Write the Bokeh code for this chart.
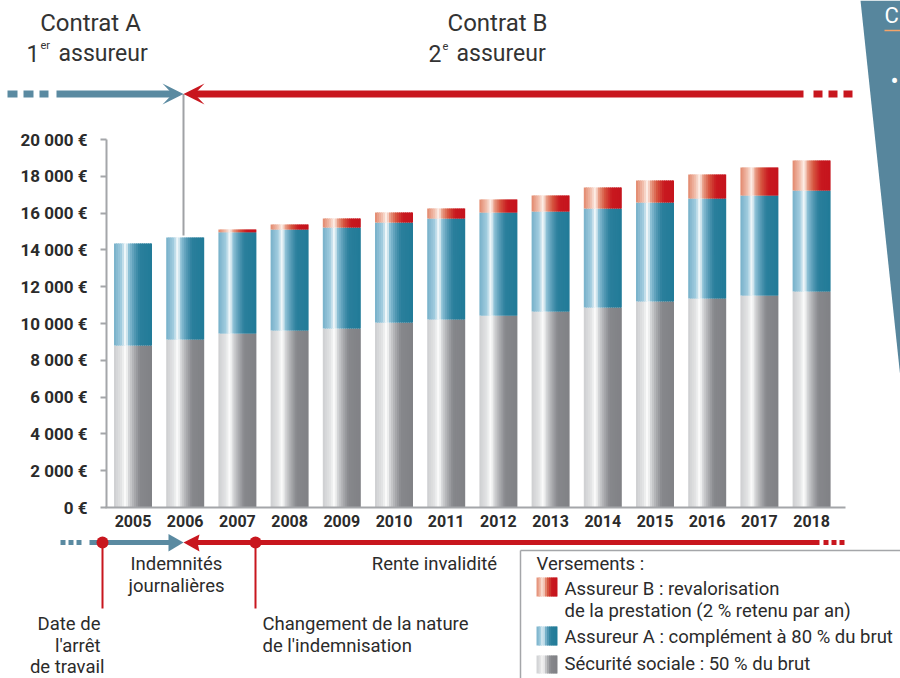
import numpy as np
from bokeh.plotting import figure
from bokeh.models import Range1d, FixedTicker
from bokeh.embed import file_html
from bokeh.resources import INLINE
from bokeh.core.properties import value

# ---------------- data ----------------
years = [2005, 2006, 2007, 2008, 2009, 2010, 2011, 2012, 2013, 2014, 2015, 2016, 2017, 2018]
securite_sociale = [8800, 9130, 9460, 9620, 9730, 10050, 10220, 10430, 10650, 10870, 11200, 11360, 11520, 11740]
assureur_a = [5550, 5540, 5500, 5490, 5490, 5440, 5490, 5600, 5440, 5380, 5380, 5430, 5440, 5490]
assureur_b = [0, 0, 150, 270, 490, 540, 540, 710, 870, 1140, 1190, 1310, 1520, 1630]
y_ticks = [0, 2000, 4000, 6000, 8000, 10000, 12000, 14000, 16000, 18000, 20000]
y_tick_labels = ["0 €", "2 000 €", "4 000 €", "6 000 €", "8 000 €", "10 000 €",
                 "12 000 €", "14 000 €", "16 000 €", "18 000 €", "20 000 €"]
legend_title = "Versements :"
legend_labels = ["Assureur B : revalorisation", "de la prestation (2 % retenu par an)",
                 "Assureur A : complément à 80 % du brut", "Sécurité sociale : 50 % du brut"]

# ---------------- layout helpers (page pixels -> data) ----------------
W, H = 900, 678
X2005, PX_YEAR = 132.5, 52.2
Y0, Y20K = 507.0, 139.0
PX_EUR = (Y0 - Y20K) / 20000.0


def dx(sx):
    return 2005 + (sx - X2005) / PX_YEAR


def dy(sy):
    return (Y0 - sy) / PX_EUR


BAR_W = 38 / PX_YEAR
FONT = value("Roboto")
TXT = "#2b2b2b"
HEAD = "#333333"
RED = "#c8161e"
BLUE_A = "#5a8aa1"
FS = value("18.5px")

GRAY_STOPS = [(0, "#cdced0"), (0.2, "#e4e5e6"), (0.31, "#ffffff"), (0.38, "#d8d9db"),
              (0.52, "#aeafb2"), (0.68, "#87888c"), (1, "#808185")]
BLUE_STOPS = [(0, "#76b0c9"), (0.2, "#a3cde0"), (0.31, "#ffffff"), (0.38, "#92c4d8"),
              (0.52, "#5a9db8"), (0.68, "#2a7f9c"), (1, "#217b98")]
RED_STOPS = [(0, "#e2876c"), (0.2, "#f2c3b2"), (0.31, "#fff5f0"), (0.38, "#eaa38c"),
             (0.55, "#d6553f"), (0.74, "#c8181f"), (1, "#c5141d")]


def hex2rgb(h):
    h = h.lstrip("#")
    return np.array([int(h[i:i + 2], 16) for i in (0, 2, 4)], dtype=float)


def interp(stops, f):
    for (f0, c0), (f1, c1) in zip(stops, stops[1:]):
        if f <= f1:
            t = (f - f0) / (f1 - f0) if f1 > f0 else 0
            c = hex2rgb(c0) * (1 - t) + hex2rgb(c1) * t
            return "#%02x%02x%02x" % tuple(int(round(v)) for v in c)
    return stops[-1][1]


N = 19
x_range = Range1d(dx(0), dx(W))
y_range = Range1d(dy(H), dy(0))

p = figure(width=W, height=H, x_range=x_range, y_range=y_range,
           output_backend="svg", toolbar_location=None,
           min_border=0, min_border_left=0, min_border_right=0,
           min_border_top=0, min_border_bottom=0, outline_line_color=None)
p.grid.visible = False
p.background_fill_color = "white"

# ---------------- right decorative panel ----------------
p.patch(x=[dx(860), dx(905), dx(905), dx(900)], y=[dy(0), dy(0), dy(380), dy(378)],
        fill_color="#57869d", line_color=None)
p.text(x=[dx(894)], y=[dy(80)], text=["•"], text_font=FONT, text_font_size=value("24px"),
       text_color="white", text_align="center", text_baseline="middle")
p.text(x=[dx(884)], y=[dy(15)], text=["C"], text_font=FONT, text_font_size=value("22px"),
       text_color="white", text_align="left", text_baseline="middle")
p.segment(x0=[dx(884)], y0=[dy(30)], x1=[dx(905)], y1=[dy(30)], line_color="#f4a46a", line_width=1.5)

# ---------------- stacked bars with gradient strips ----------------
L, R, B, T, C = [], [], [], [], []
base = [0.0] * len(years)
for vals, stops in [(securite_sociale, GRAY_STOPS), (assureur_a, BLUE_STOPS), (assureur_b, RED_STOPS)]:
    for i, yr in enumerate(years):
        if vals[i] > 0:
            left0 = yr - BAR_W / 2
            for j in range(N):
                l = left0 + j * BAR_W / N
                r = min(l + BAR_W / N * 1.6, yr + BAR_W / 2)
                L.append(l); R.append(r)
                B.append(base[i]); T.append(base[i] + vals[i])
                C.append(interp(stops, (j + 0.5) / N))
    base = [b + v for b, v in zip(base, vals)]
p.quad(left=L, right=R, bottom=B, top=T, fill_color=C, line_color=None)

# ---------------- axes ----------------
xa = p.xaxis[0]
xa.fixed_location = 0
xa.bounds = (dx(105), dx(845))
xa.ticker = FixedTicker(ticks=years, minor_ticks=[])
xa.major_label_overrides = {y: str(y) for y in years}
xa.major_tick_out = 0
xa.major_tick_in = 0
xa.minor_tick_out = 0
xa.minor_tick_in = 0
xa.axis_line_color = "#a4a6a9"
xa.axis_line_width = 2
xa.major_label_text_font = "Roboto"
xa.major_label_text_font_size = "16px"
xa.major_label_text_font_style = "bold"
xa.major_label_text_color = TXT
xa.major_label_standoff = 7

ya = p.yaxis[0]
ya.fixed_location = dx(106)
ya.bounds = (0, 20000)
ya.ticker = FixedTicker(ticks=y_ticks, minor_ticks=[])
ya.major_label_overrides = {t: lab for t, lab in zip(y_ticks, y_tick_labels)}
ya.major_tick_out = 6
ya.major_tick_in = 0
ya.minor_tick_out = 0
ya.minor_tick_in = 0
ya.major_tick_line_color = "#a4a6a9"
ya.major_tick_line_width = 2
ya.axis_line_color = "#a4a6a9"
ya.axis_line_width = 2
ya.major_label_text_font = "Roboto"
ya.major_label_text_font_size = "17px"
ya.major_label_text_font_style = "bold"
ya.major_label_text_color = TXT
ya.major_label_standoff = 13

# ---------------- header: contracts ----------------
YA = dy(93.5)
p.segment(x0=[dx(183)], y0=[YA], x1=[dx(183)], y1=[dy(235)], line_color="#a0a2a5", line_width=2)
p.line([dx(7), dx(48)], [YA, YA], line_color=BLUE_A, line_width=7, line_dash="10 6", line_cap="butt")
p.line([dx(56), dx(174)], [YA, YA], line_color=BLUE_A, line_width=7, line_cap="butt")
p.patch([dx(183), dx(162), dx(172), dx(162)], [YA, dy(83), YA, dy(104)], fill_color=BLUE_A, line_color=None)
p.line([dx(192), dx(803)], [YA, YA], line_color=RED, line_width=7, line_cap="butt")
p.patch([dx(183), dx(204), dx(194), dx(204)], [YA, dy(83), YA, dy(104)], fill_color=RED, line_color=None)
p.line([dx(813), dx(852)], [YA, YA], line_color=RED, line_width=7, line_dash="9 6", line_cap="butt")

p.text(x=[dx(90), dx(497)], y=[dy(22), dy(22)], text=["Contrat A", "Contrat B"],
       text_font=FONT, text_font_size=value("24px"), text_color=HEAD,
       text_align="center", text_baseline="middle")
p.text(x=[dx(39), dx(441)], y=[dy(53), dy(53)], text=["1", "2"],
       text_font=FONT, text_font_size=value("23px"), text_color=HEAD,
       text_align="right", text_baseline="middle")
p.text(x=[dx(40), dx(442)], y=[dy(45), dy(45)], text=["er", "e"],
       text_font=FONT, text_font_size=value("11px"), text_color=HEAD,
       text_align="left", text_baseline="middle")
p.text(x=[dx(58), dx(456)], y=[dy(53), dy(53)], text=["assureur", "assureur"],
       text_font=FONT, text_font_size=value("23px"), text_color=HEAD,
       text_align="left", text_baseline="middle")

# ---------------- bottom timeline ----------------
YT = dy(542)
p.segment(x0=[dx(102), dx(255)], y0=[YT, YT], x1=[dx(102), dx(255)], y1=[dy(608), dy(608)],
          line_color=RED, line_width=2)
p.line([dx(60), dx(82)], [YT, YT], line_color=BLUE_A, line_width=5, line_dash="5 3", line_cap="butt")
p.line([dx(89), dx(172)], [YT, YT], line_color=BLUE_A, line_width=5, line_cap="butt")
p.patch([dx(183), dx(168), dx(168)], [YT, dy(533.5), dy(551)], fill_color=BLUE_A, line_color=None)
p.line([dx(194), dx(819)], [YT, YT], line_color=RED, line_width=5, line_cap="butt")
p.patch([dx(183), dx(199), dx(197), dx(199)], [YT, dy(534), YT, dy(551)], fill_color=RED, line_color=None)
p.line([dx(823), dx(846)], [YT, YT], line_color=RED, line_width=5, line_dash="5 3", line_cap="butt")
p.scatter(x=[dx(102), dx(255)], y=[YT, YT], size=12, marker="circle", fill_color=RED, line_color=None)

p.text(x=[dx(176), dx(176), dx(434)], y=[dy(563), dy(585), dy(563)],
       text=["Indemnités", "journalières", "Rente invalidité"],
       text_font=FONT, text_font_size=FS, text_color=TXT,
       text_align="center", text_baseline="middle")
p.text(x=[dx(100), dx(100), dx(104)], y=[dy(623), dy(645), dy(666)],
       text=["Date de", "l'arrêt", "de travail"],
       text_font=FONT, text_font_size=FS, text_color=TXT,
       text_align="right", text_baseline="middle")
p.text(x=[dx(262), dx(262)], y=[dy(623), dy(645)],
       text=["Changement de la nature", "de l'indemnisation"],
       text_font=FONT, text_font_size=FS, text_color=TXT,
       text_align="left", text_baseline="middle")

# ---------------- legend box ----------------
p.segment(x0=[dx(520), dx(520)], y0=[dy(550), dy(550)], x1=[dx(905), dx(520)], y1=[dy(550), dy(690)],
          line_color="#a4a6a9", line_width=1.5)
p.text(x=[dx(536)], y=[dy(563)], text=[legend_title],
       text_font=FONT, text_font_size=FS, text_color=TXT,
       text_align="left", text_baseline="middle")
p.text(x=[dx(564)] * 4, y=[dy(588), dy(610), dy(636), dy(663)], text=legend_labels,
       text_font=FONT, text_font_size=FS, text_color=TXT,
       text_align="left", text_baseline="middle")

SL, SR, SB, ST, SC = [], [], [], [], []
NS = 10
for (top_px, bot_px), stops in [((577, 596), RED_STOPS), ((626, 645), BLUE_STOPS), ((655, 673), GRAY_STOPS)]:
    for j in range(NS):
        l = dx(536 + j * 21 / NS)
        SL.append(l); SR.append(min(dx(536 + (j + 1.6) * 21 / NS), dx(557)))
        SB.append(dy(bot_px)); ST.append(dy(top_px))
        SC.append(interp(stops, (j + 0.5) / NS))
p.quad(left=SL, right=SR, bottom=SB, top=ST, fill_color=SC, line_color=None)

open("out.html", "w").write(file_html(p, INLINE))
